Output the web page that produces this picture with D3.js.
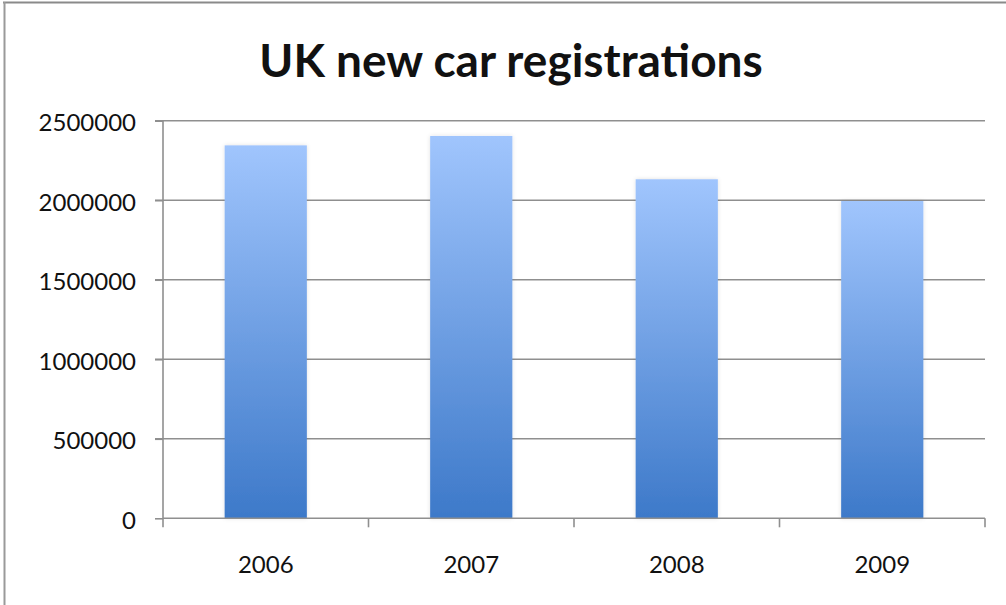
<!DOCTYPE html>
<html>
  <head>
    <meta charset="utf-8">
    <title>UK new car registrations</title>
    <script src="https://d3js.org/d3.v7.min.js"></script>
    <style>
      body { margin: 0; background: white; }
      #chart text { font-family: Lato, "Open Sans", sans-serif; fill: #111; }
      .title { font-weight: bold; }
      .grid line { stroke: #8f8f8f; stroke-width: 1.6; }
      .axis path, .axis line { stroke: #8f8f8f; stroke-width: 1.6; fill: none; }
    </style>
  </head>
  <body>
    <svg id="chart" width="1006" height="605"></svg>
    <script>
      // data
      years = ["2006", "2007", "2008", "2009"];
      registrations = [2344864, 2404007, 2131795, 1994999];
      yTicks = [0, 500000, 1000000, 1500000, 2000000, 2500000];

      // page elements
      svg = d3.select("#chart");
      width = 1006;
      height = 605;
      plot = { left: 163, right: 985, top: 120.7, bottom: 518.3 };

      // frame round the chart
      svg.append("rect")
        .attr("width", width)
        .attr("height", height)
        .attr("fill", "white");
      svg.append("line")
        .attr("x1", 3).attr("x2", width)
        .attr("y1", 2.5).attr("y2", 2.5)
        .attr("stroke", "#8a8a8a")
        .attr("stroke-width", 2);
      svg.append("line")
        .attr("x1", 4.5).attr("x2", 4.5)
        .attr("y1", 2).attr("y2", height)
        .attr("stroke", "#9a9a9a")
        .attr("stroke-width", 2);

      // scales
      x = d3.scaleBand()
        .domain(years)
        .range([plot.left, plot.right])
        .paddingInner(0.6)
        .paddingOuter(0.3);
      xEdges = d3.scaleBand()
        .domain(years)
        .range([plot.left, plot.right]);
      y = d3.scaleLinear()
        .domain([0, 2500000])
        .range([plot.bottom, plot.top]);

      // bar gradient
      defs = svg.append("defs");
      grad = defs.append("linearGradient")
        .attr("id", "barFill")
        .attr("x1", 0).attr("x2", 0)
        .attr("y1", 0).attr("y2", 1);
      grad.append("stop").attr("offset", "0%").attr("stop-color", "#a0c5fd");
      grad.append("stop").attr("offset", "100%").attr("stop-color", "#3d79c9");
      shadow = defs.append("filter")
        .attr("id", "soft")
        .attr("x", "-20%").attr("y", "-5%")
        .attr("width", "140%").attr("height", "110%");
      shadow.append("feDropShadow")
        .attr("dx", 0).attr("dy", 0)
        .attr("stdDeviation", 2)
        .attr("flood-color", "#000")
        .attr("flood-opacity", 0.12);

      // gridlines and y labels
      grid = svg.append("g").attr("class", "grid");
      grid.selectAll("line")
          .data(yTicks.filter(function(d) { return d > 0; }))
        .enter().append("line")
          .attr("x1", plot.left - 8)
          .attr("x2", plot.right)
          .attr("y1", function(d) { return y(d); })
          .attr("y2", function(d) { return y(d); });

      yAxis = svg.append("g")
        .attr("class", "axis")
        .attr("transform", "translate(" + plot.left + ",0)")
        .call(d3.axisLeft(y).tickValues(yTicks).tickSize(8).tickPadding(19).tickFormat(d3.format("d")));
      yAxis.select(".domain").attr("d", "M0," + plot.top + "V" + plot.bottom);
      yAxis.selectAll("text")
        .attr("dy", "0.42em")
        .style("font-size", "24px");

      // bars
      svg.append("g")
        .selectAll("rect")
          .data(registrations)
        .enter().append("rect")
          .attr("x", function(d, i) { return x(years[i]); })
          .attr("width", x.bandwidth())
          .attr("y", function(d) { return y(d); })
          .attr("height", function(d) { return y(0) - y(d); })
          .attr("fill", "url(#barFill)")
          .attr("filter", "url(#soft)");

      // x axis with ticks between categories
      xAxis = svg.append("g")
        .attr("class", "axis")
        .attr("transform", "translate(0," + plot.bottom + ")");
      xAxis.append("line")
        .attr("x1", plot.left).attr("x2", plot.right)
        .attr("y1", 0).attr("y2", 0);
      xAxis.selectAll(".edge")
          .data(years.map(function(d) { return xEdges(d); }).concat([plot.right]))
        .enter().append("line")
          .attr("class", "edge")
          .attr("x1", function(d) { return d; })
          .attr("x2", function(d) { return d; })
          .attr("y1", 0).attr("y2", 9);
      xAxis.selectAll(".label")
          .data(years)
        .enter().append("text")
          .attr("class", "label")
          .attr("x", function(d) { return x(d) + x.bandwidth() / 2; })
          .attr("y", 55)
          .attr("text-anchor", "middle")
          .style("font-size", "24px")
          .text(function(d) { return d; });

      // title
      svg.append("text")
        .attr("class", "title")
        .attr("x", 511)
        .attr("y", 77)
        .attr("text-anchor", "middle")
        .style("font-size", "46px")
        .text("UK new car registrations");
    </script>
  </body>
</html>
